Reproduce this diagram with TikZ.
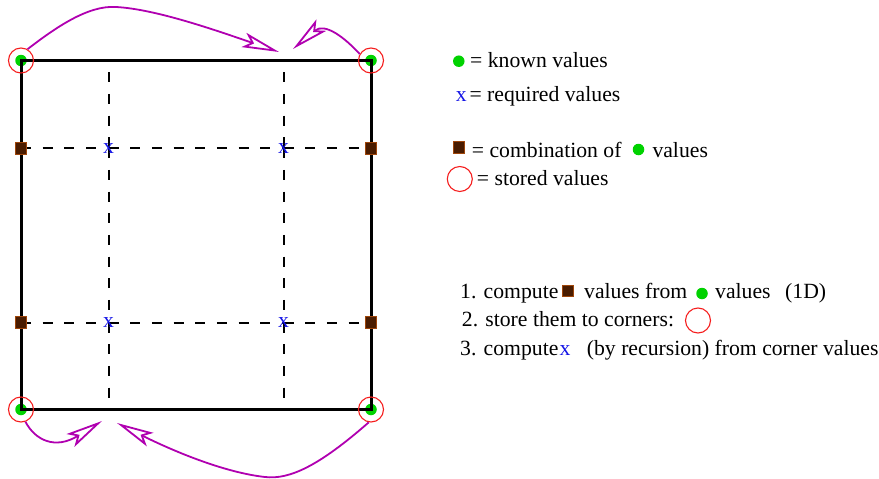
\documentclass[tikz,border=0pt]{standalone}
\usepackage{fontspec}
\setmainfont{Liberation Serif}
\usetikzlibrary{arrows.meta}
\definecolor{magline}{RGB}{176,0,176}
\definecolor{knowngreen}{RGB}{0,210,0}
\definecolor{brownfill}{RGB}{74,28,0}
\definecolor{brownedge}{RGB}{160,70,10}
\definecolor{reqblue}{RGB}{20,20,230}
\definecolor{storered}{RGB}{245,30,30}
\newcommand\myfs{\rmfamily\fontsize{21.7}{26}\selectfont}
\begin{document}
\begin{tikzpicture}[x=1pt,y=-1pt,
  knownpt/.style={circle,fill=knowngreen,inner sep=0pt,minimum size=11.5pt},
  storedcirc/.style={circle,draw=storered,line width=1.1pt,inner sep=0pt,minimum size=25pt},
  combosq/.style={rectangle,fill=brownfill,draw=brownedge,line width=0.7pt,inner sep=0pt,minimum size=11.5pt},
  reqx/.style={text=reqblue,inner sep=0pt,font=\myfs},
  lbl/.style={inner sep=0pt,font=\myfs,anchor=base west},
  frameline/.style={draw=black,line width=3pt,line cap=rect},
  gridline/.style={draw=black,line width=2pt,dash pattern=on 10pt off 11.67pt},
  gridlinegap/.style={gridline,dash phase=10pt},
  magarrow/.style={draw=magline,line width=1.8pt,line join=miter,-{Stealth[open,length=37pt,width=15pt,inset=8pt]}}
]
\useasboundingbox (0,0) rectangle (879,479);
\clip (0,0) rectangle (879,479);

% corner known values
\node[knownpt] (tl) at (21,60.5) {};
\node[knownpt] (tr) at (371,60.5) {};
\node[knownpt] (bl) at (21,409.5) {};
\node[knownpt] (br) at (371,409.5) {};

% frame
\draw[frameline] (tl.center) -- (tr.center) -- (br.center) -- (bl.center) -- cycle;

% grid points
\coordinate (v1t) at (108.5,60.5);
\coordinate (v1b) at (108.5,409.5);
\coordinate (v2t) at (283.5,60.5);
\coordinate (v2b) at (283.5,409.5);
\coordinate (p11) at (108.5,148.3);
\coordinate (p12) at (283.5,148.3);
\coordinate (p21) at (108.5,322.5);
\coordinate (p22) at (283.5,322.5);
\node[combosq] (sl1) at (21,148.3) {};
\node[combosq] (sr1) at (371,148.3) {};
\node[combosq] (sl2) at (21,322.5) {};
\node[combosq] (sr2) at (371,322.5) {};

% dashed grid, drawn cell by cell
\draw[gridlinegap] (v1t) -- (p11);
\draw[gridlinegap] (v2t) -- (p12);
\draw[gridline] (p11) -- (p21);
\draw[gridline] (p12) -- (p22);
\draw[gridline] (p21) -- (v1b);
\draw[gridline] (p22) -- (v2b);
\draw[gridline] (sl1.center) -- (p11);
\draw[gridline] (p11) -- (p12);
\draw[gridline] (p12) -- (sr1.center);
\draw[gridline] (sl2.center) -- (p21);
\draw[gridline] (p21) -- (p22);
\draw[gridline] (p22) -- (sr2.center);
\node[combosq] at (sl1) {};
\node[combosq] at (sr1) {};
\node[combosq] at (sl2) {};
\node[combosq] at (sr2) {};

% required values
\node[reqx] (x11) at (p11) {x};
\node[reqx] (x12) at (p12) {x};
\node[reqx] (x21) at (p21) {x};
\node[reqx] (x22) at (p22) {x};

% stored circles
\node[storedcirc] (tlc) at (tl) {};
\node[storedcirc] (trc) at (tr) {};
\node[storedcirc] (blc) at (bl) {};
\node[storedcirc] (brc) at (br) {};

% arrows
\coordinate (tipA) at (279,52);
\coordinate (tipB) at (293,49);
\coordinate (tipC) at (102,421);
\coordinate (tipD) at (117,423);
\draw[magarrow] (tlc.60) .. controls (55,28) and (88,5) .. (116,7)
   .. controls (155,9) and (215,30) .. (tipA);
\draw[magarrow] (trc.150) .. controls (345,38) and (325,22) .. (tipB);
\draw[magarrow] (blc.-70) .. controls (35,440) and (55,450) .. (tipC);
\draw[magarrow] (brc.-100) .. controls (320,465) and (290,480) .. (265,477)
   .. controls (220,472) and (165,447) .. (tipD);

% legend
\node[knownpt] (lg1) at (458.8,61.2) {};
\node[lbl] (lt1) at (470,67.5) {= known values};
\node[reqx,anchor=base] (lg2) at (461.3,101) {x};
\node[lbl] (lt2) at (469.3,101) {= required values};
\node[combosq] (lg3) at (458.8,147.5) {};
\node[lbl] (lt3) at (471.7,157) {= combination of};
\node[knownpt] (lg3b) at (638.5,149.5) {};
\node[lbl] (lt3b) at (652.3,157) {values};
\node[storedcirc] (lg4) at (459.8,179) {};
\node[lbl] (lt4) at (476.7,185.5) {= stored values};

% steps
\node[lbl] (s1a) at (460,298.3) {1. compute};
\node[combosq] (s1sq) at (568,291) {};
\node[lbl] (s1b) at (584,298.3) {values from};
\node[knownpt] (s1dot) at (702,293.5) {};
\node[lbl] (s1c) at (715,298.3) {values};
\node[lbl] (s1d) at (785,298.3) {(1D)};
\node[lbl] (s2a) at (461.7,326.7) {2. store them to corners:};
\node[storedcirc] (s2c) at (698,320.5) {};
\node[lbl] (s3a) at (460,355) {3. compute};
\node[reqx,anchor=base] (s3x) at (565,355) {x};
\node[lbl] (s3b) at (586.7,355) {(by recursion) from corner values};
\end{tikzpicture}
\end{document}
